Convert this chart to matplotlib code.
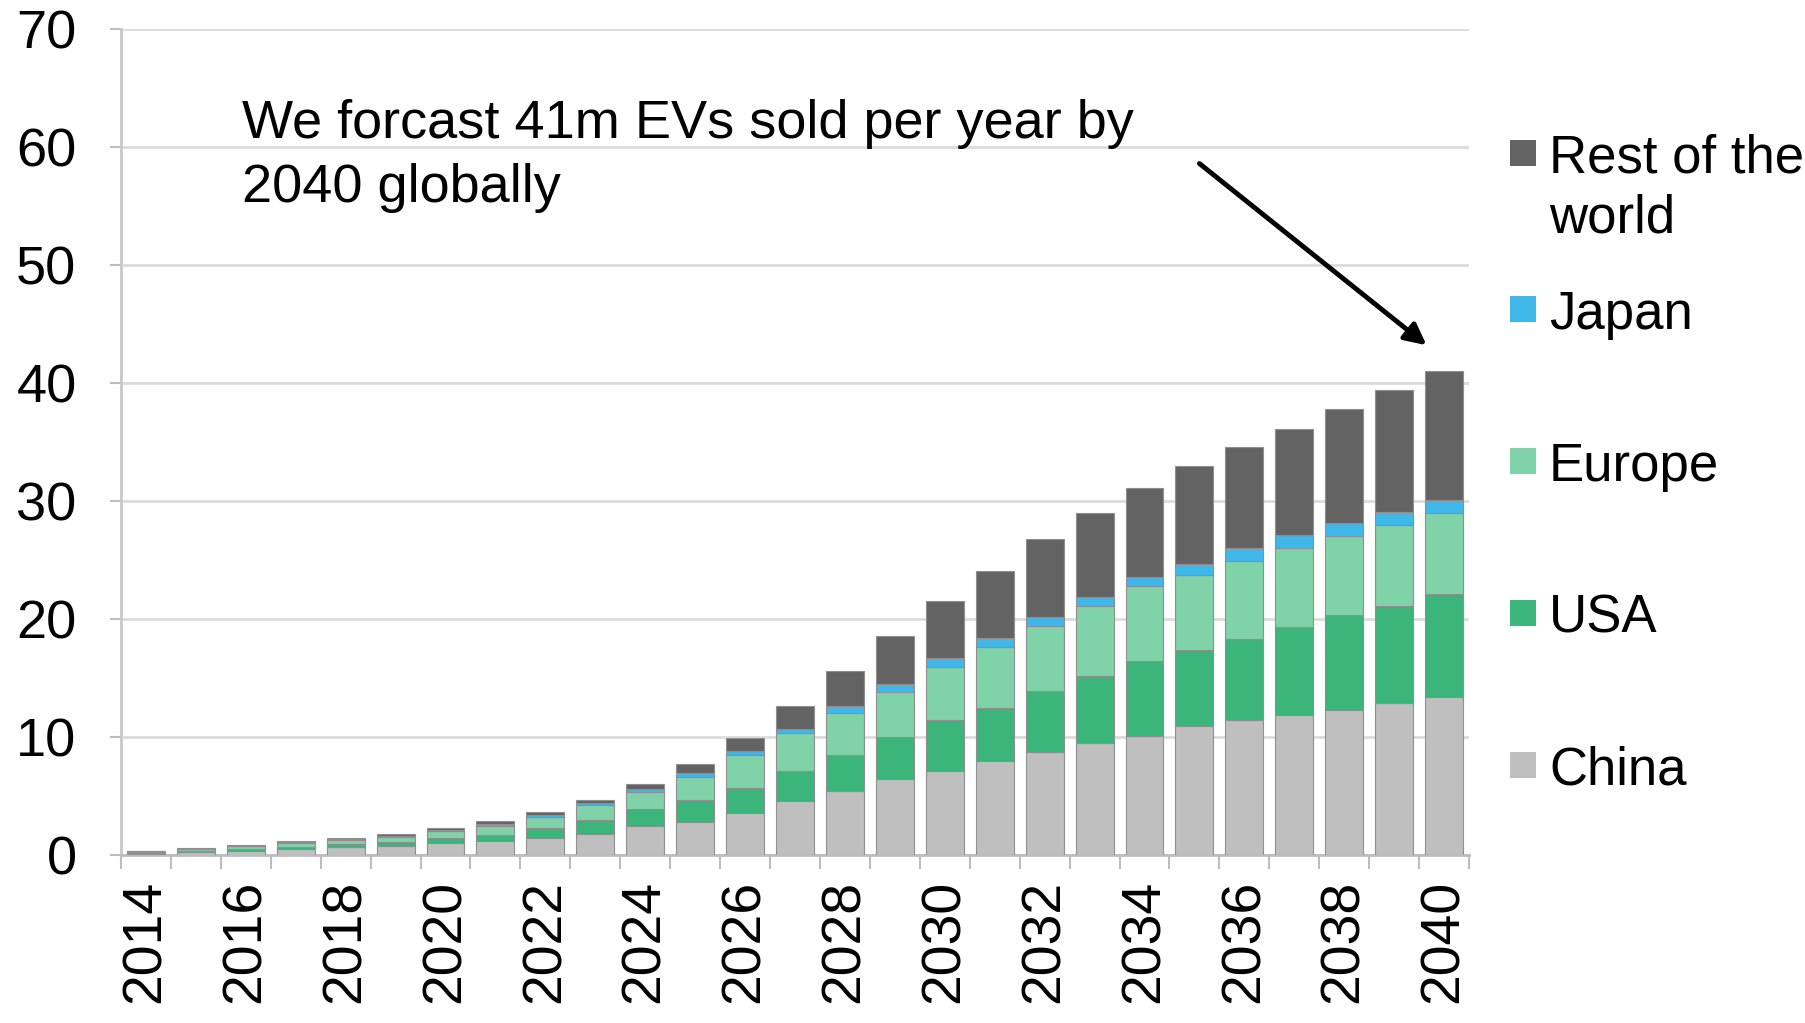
import matplotlib
matplotlib.use("Agg")
import matplotlib.pyplot as plt
import numpy as np
from matplotlib.patches import Rectangle

plt.rcParams['font.family'] = ['Liberation Sans', 'DejaVu Sans']

years = list(range(2014, 2041))
china  = [0.10, 0.22, 0.35, 0.50, 0.65, 0.80, 1.00, 1.20, 1.40, 1.80, 2.50, 2.80, 3.60, 4.60, 5.40, 6.40, 7.10, 8.00, 8.70, 9.50, 10.1, 10.9, 11.4, 11.9, 12.3, 12.9, 13.4]
usa    = [0.10, 0.12, 0.17, 0.20, 0.25, 0.30, 0.40, 0.50, 0.85, 1.15, 1.40, 1.85, 2.10, 2.50, 3.10, 3.60, 4.30, 4.50, 5.20, 5.70, 6.30, 6.50, 6.90, 7.40, 8.00, 8.20, 8.70]
europe = [0.09, 0.17, 0.22, 0.30, 0.35, 0.45, 0.60, 0.80, 1.00, 1.25, 1.40, 1.95, 2.80, 3.20, 3.50, 3.80, 4.50, 5.10, 5.50, 5.90, 6.40, 6.30, 6.60, 6.70, 6.70, 6.90, 6.90]
japan  = [0.03, 0.04, 0.05, 0.06, 0.08, 0.08, 0.10, 0.10, 0.15, 0.20, 0.30, 0.35, 0.30, 0.40, 0.60, 0.70, 0.80, 0.80, 0.80, 0.80, 0.80, 1.00, 1.10, 1.10, 1.10, 1.10, 1.10]
rest   = [0.03, 0.05, 0.06, 0.09, 0.12, 0.12, 0.20, 0.25, 0.25, 0.25, 0.45, 0.75, 1.10, 1.90, 3.00, 4.10, 4.80, 5.70, 6.60, 7.10, 7.50, 8.30, 8.60, 9.00, 9.70, 10.3, 10.9]

series_names = ["China", "USA", "Europe", "Japan", "Rest of the\nworld"]
series_vals = [china, usa, europe, japan, rest]
series_colors = ["#bfbfbf", "#3bb57a", "#80d3a9", "#3fb7e8", "#636363"]

yticks = [0, 10, 20, 30, 40, 50, 60, 70]
annotation_lines = ["We forcast 41m EVs sold per year by", "2040 globally"]

W, H = 1806, 1023
fig = plt.figure(figsize=(W / 100, H / 100), dpi=100)
ax = fig.add_axes([121 / W, 1 - 855 / H, (1469 - 121) / W, (855 - 29) / H])

x = np.arange(len(years))
bottom = np.zeros(len(years))
for vals, col in zip(series_vals, series_colors):
    v = np.array(vals)
    ax.bar(x, v, bottom=bottom, width=0.76, color=col, edgecolor="#8f8f8f",
           linewidth=0.8, zorder=3)
    bottom += v

ax.set_xlim(-0.5, len(years) - 0.5)
ax.set_ylim(0, 70)
ax.set_yticks(yticks)
ax.set_yticklabels([str(t) for t in yticks], fontsize=39)
ax.yaxis.grid(True, color="#dcdcdc", linewidth=2, zorder=0)
ax.set_axisbelow(True)

ax.set_xticks(x[::2])
ax.set_xticklabels([str(y) for y in years[::2]], rotation=90, fontsize=40)
ax.set_xticks(np.arange(-0.5, len(years), 1.0), minor=True)
ax.tick_params(axis="x", which="major", length=0, pad=18)
ax.tick_params(axis="x", which="minor", length=10, width=1.5, color="#bdbdbd")
ax.tick_params(axis="y", which="major", length=8, width=1.5, color="#bdbdbd", pad=24)

for s in ["top", "right"]:
    ax.spines[s].set_visible(False)
ax.spines["left"].set_color("#c8c8c8")
ax.spines["left"].set_linewidth(2)
ax.spines["bottom"].set_color("#bdbdbd")
ax.spines["bottom"].set_linewidth(2)

# annotation
fig.text(242 / W, 1 - 138 / H, annotation_lines[0], fontsize=39, va="baseline", ha="left")
fig.text(242 / W, 1 - 202 / H, annotation_lines[1], fontsize=39, va="baseline", ha="left")
ax.annotate("", xy=(25.65, 43.2), xytext=(21.1, 58.6),
            arrowprops=dict(arrowstyle="-|>", lw=3.5, color="black", mutation_scale=32,
                            shrinkA=0, shrinkB=0))

# legend (manual, spread vertically like the original)
leg_y = {"Rest of the\nworld": 153, "Japan": 309, "Europe": 461, "USA": 613, "China": 765}
sq = 26
for name, col in zip(series_names, series_colors):
    yc = leg_y[name]
    fig.add_artist(Rectangle(((1523 - sq / 2) / W, 1 - (yc + sq / 2) / H), sq / W, sq / H,
                             transform=fig.transFigure, facecolor=col, edgecolor="none"))
    lines = name.split("\n")
    for i, ln in enumerate(lines):
        fig.text(1549 / W, 1 - (yc + i * 60) / H, ln, fontsize=38, va="center_baseline", ha="left")

fig.savefig("out.png", dpi=100, facecolor="white")
